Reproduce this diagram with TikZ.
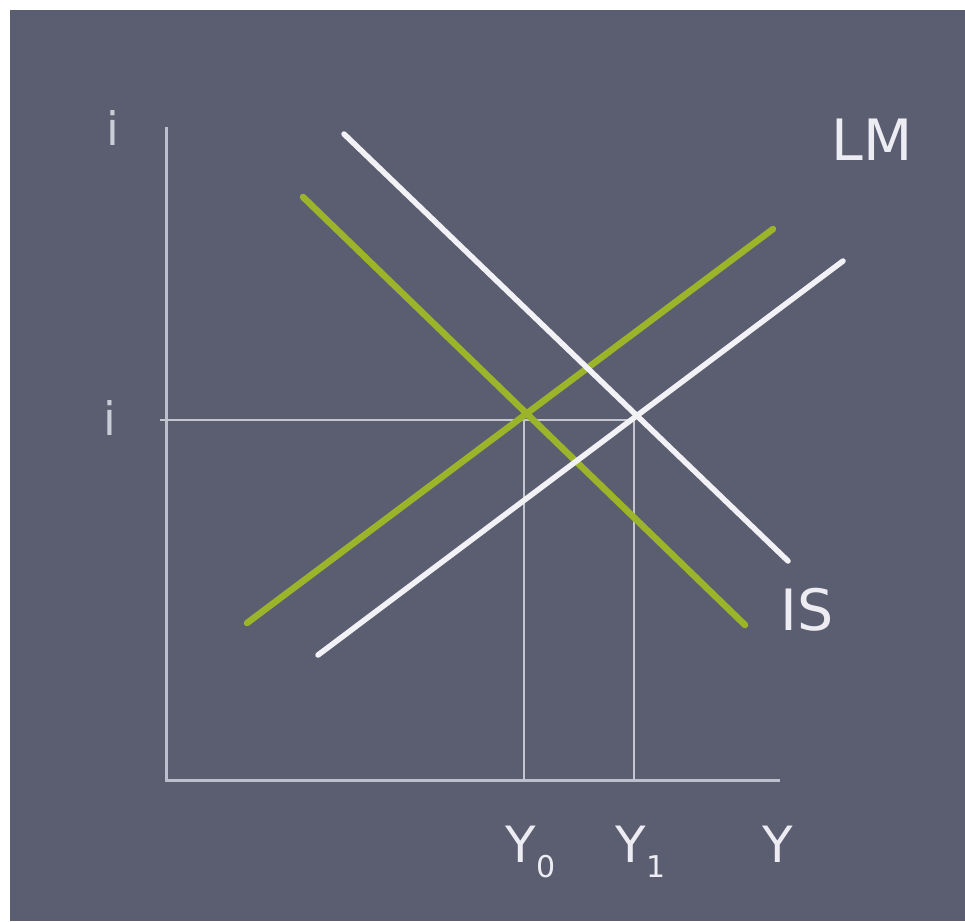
\documentclass[tikz,border=0pt]{standalone}
\usepackage{fontspec}
\setmainfont{DejaVu Sans}
\definecolor{bgc}{HTML}{5B5E70}
\definecolor{whl}{HTML}{F2F2F6}
\definecolor{grl}{HTML}{9CB42A}
\definecolor{axc}{HTML}{BDBFCC}
\definecolor{txc}{HTML}{ECECF2}
\newcommand{\subl}[2]{#1\kern0.02em\raisebox{-0.3em}{\fontsize{30}{32}\selectfont #2}}
\tikzset{
  curvew/.style={draw=whl, line width=5.5pt, line cap=round},
  curveg/.style={draw=grl, line width=6.5pt, line cap=round},
  axisl/.style={draw=axc, line width=3pt},
  guide/.style={draw=axc!90!white, line width=2.2pt},
  lbl/.style={text=txc, inner sep=0pt, font=\fontsize{50}{52}\selectfont},
  biglbl/.style={text=txc, inner sep=0pt, font=\fontsize{57}{60}\selectfont},
  ilbl/.style={text=axc!80!white, inner sep=0pt, font=\fontsize{46}{48}\selectfont}
}
\begin{document}
\begin{tikzpicture}[x=1pt,y=-1pt]
\useasboundingbox (0,0) rectangle (965,921);
\fill[white] (0,0) rectangle (965,921);
\fill[bgc] (10,10) rectangle (965,921);
% axes
\coordinate (ytop) at (166,127);
\coordinate (orig) at (166,780);
\coordinate (xend) at (780,780);
\draw[axisl] (ytop) -- (orig) -- (xend);
% guides
\coordinate (hl) at (160,420);
\coordinate (e1) at (634,420);
\coordinate (e0) at (524,420);
\coordinate (b0) at (524,780);
\coordinate (b1) at (634,780);
\draw[guide] (hl) -- (e1);
\draw[guide] (e0) -- (b0);
\draw[guide] (e1) -- (b1);
% green curves
\coordinate (glm1) at (247,623);
\coordinate (glm2) at (773,229);
\coordinate (gis1) at (303,197);
\coordinate (gis2) at (745,625);
\draw[curveg] (glm1) -- (glm2);
\draw[curveg] (gis1) -- (gis2);
% white curves
\coordinate (wlm1) at (318,655);
\coordinate (wlm2) at (843,261);
\coordinate (wis1) at (344,134);
\coordinate (wis2) at (788,561);
\draw[curvew] (wlm1) -- (wlm2);
\draw[curvew] (wis1) -- (wis2);
% labels
\node[biglbl] (lm) at (872,140) {LM};
\node[biglbl] (is) at (807,610) {IS};
\node[ilbl] (itop) at (113,128) {i};
\node[ilbl] (imid) at (110,418) {i};
\node[lbl, anchor=base west] (y0) at (505,862) {\subl{Y}{0}};
\node[lbl, anchor=base west] (y1) at (615,862) {\subl{Y}{1}};
\node[lbl, anchor=base] (yy) at (778,862) {Y};
\end{tikzpicture}
\end{document}
